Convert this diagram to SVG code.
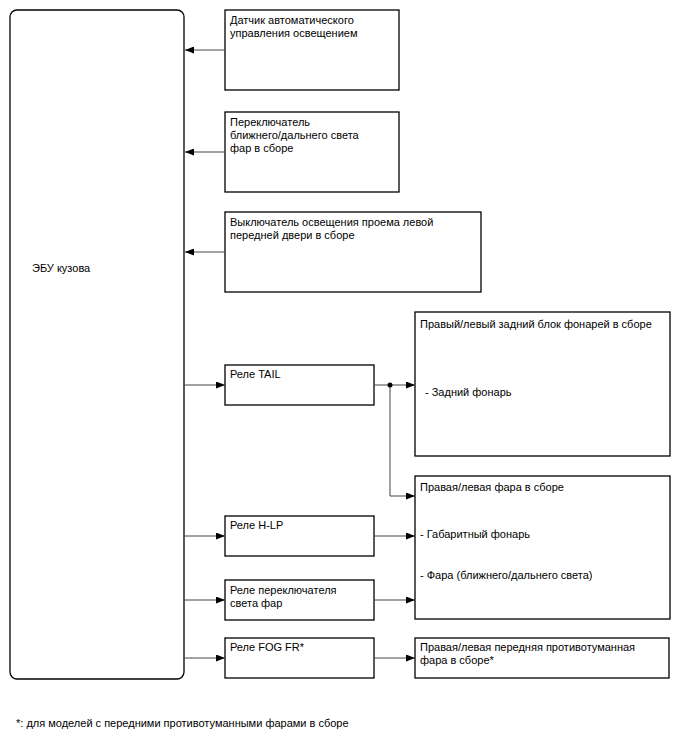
<svg xmlns="http://www.w3.org/2000/svg" width="688" height="755" viewBox="0 0 688 755">
<defs>
<marker id="ah" markerWidth="9" markerHeight="7" refX="9" refY="3.5" orient="auto" markerUnits="userSpaceOnUse">
<path d="M0,0 L9,3.5 L0,7 Z" fill="#000"/>
</marker>
</defs>
<style>
.box{fill:#fff;stroke:#000;stroke-width:1.3}
.t{font-family:"Liberation Sans",Arial,sans-serif;font-size:11px;fill:#000}
.c{fill:none;stroke:#444;stroke-width:1}
</style>
<rect width="688" height="755" fill="#fff"/>
<g id="ecu"><rect class="box" x="10" y="10" width="174" height="669" rx="7"/><text class="t" x="32" y="272">ЭБУ кузова</text></g>
<g id="sensor"><rect class="box" x="225" y="10" width="174" height="80"/><text class="t" x="230" y="24">Датчик автоматического</text><text class="t" x="230" y="37">управления освещением</text></g>
<g id="dimmer"><rect class="box" x="225" y="112" width="174" height="80"/><text class="t" x="230" y="126">Переключатель</text><text class="t" x="230" y="139">ближнего/дальнего света</text><text class="t" x="230" y="152">фар в сборе</text></g>
<g id="door"><rect class="box" x="225" y="212" width="256" height="80"/><text class="t" x="230" y="226">Выключатель освещения проема левой</text><text class="t" x="230" y="239">передней двери в сборе</text></g>
<g id="tail"><rect class="box" x="225" y="365" width="149" height="40"/><text class="t" x="230" y="378">Реле TAIL</text></g>
<g id="hlp"><rect class="box" x="225" y="516" width="149" height="40"/><text class="t" x="230" y="529">Реле H-LP</text></g>
<g id="hsw"><rect class="box" x="225" y="580" width="149" height="40"/><text class="t" x="230" y="594">Реле переключателя</text><text class="t" x="230" y="607">света фар</text></g>
<g id="fog"><rect class="box" x="225" y="638" width="149" height="40"/><text class="t" x="230" y="651">Реле FOG FR*</text></g>
<g id="rear"><rect class="box" x="415" y="312" width="255" height="144"/><text class="t" x="420" y="328">Правый/левый задний блок фонарей в сборе</text><text class="t" x="425" y="396">- Задний фонарь</text></g>
<g id="head"><rect class="box" x="415" y="476" width="255" height="143"/><text class="t" x="420" y="491">Правая/левая фара в сборе</text><text class="t" x="420" y="538">- Габаритный фонарь</text><text class="t" x="420" y="579">- Фара (ближнего/дальнего света)</text></g>
<g id="foglamp"><rect class="box" x="415" y="638" width="254" height="40"/><text class="t" x="420" y="651">Правая/левая передняя противотуманная</text><text class="t" x="420" y="664">фара в сборе*</text></g>
<g id="connectors">
<line class="c" x1="225" y1="50" x2="185" y2="50" marker-end="url(#ah)"/>
<line class="c" x1="225" y1="152" x2="185" y2="152" marker-end="url(#ah)"/>
<line class="c" x1="225" y1="252" x2="185" y2="252" marker-end="url(#ah)"/>
<line class="c" x1="184" y1="385" x2="225" y2="385" marker-end="url(#ah)"/>
<line class="c" x1="184" y1="536" x2="225" y2="536" marker-end="url(#ah)"/>
<line class="c" x1="184" y1="600" x2="225" y2="600" marker-end="url(#ah)"/>
<line class="c" x1="184" y1="658" x2="225" y2="658" marker-end="url(#ah)"/>
<line class="c" x1="374" y1="385" x2="415" y2="385" marker-end="url(#ah)"/>
<path class="c" d="M390,385 V496 H415" marker-end="url(#ah)"/>
<circle cx="390" cy="385" r="2.5" fill="#000"/>
<line class="c" x1="374" y1="536" x2="415" y2="536" marker-end="url(#ah)"/>
<line class="c" x1="374" y1="600" x2="415" y2="600" marker-end="url(#ah)"/>
<line class="c" x1="374" y1="658" x2="415" y2="658" marker-end="url(#ah)"/>
</g>
<text class="t" x="16" y="727">*: для моделей с передними противотуманными фарами в сборе</text>
</svg>
